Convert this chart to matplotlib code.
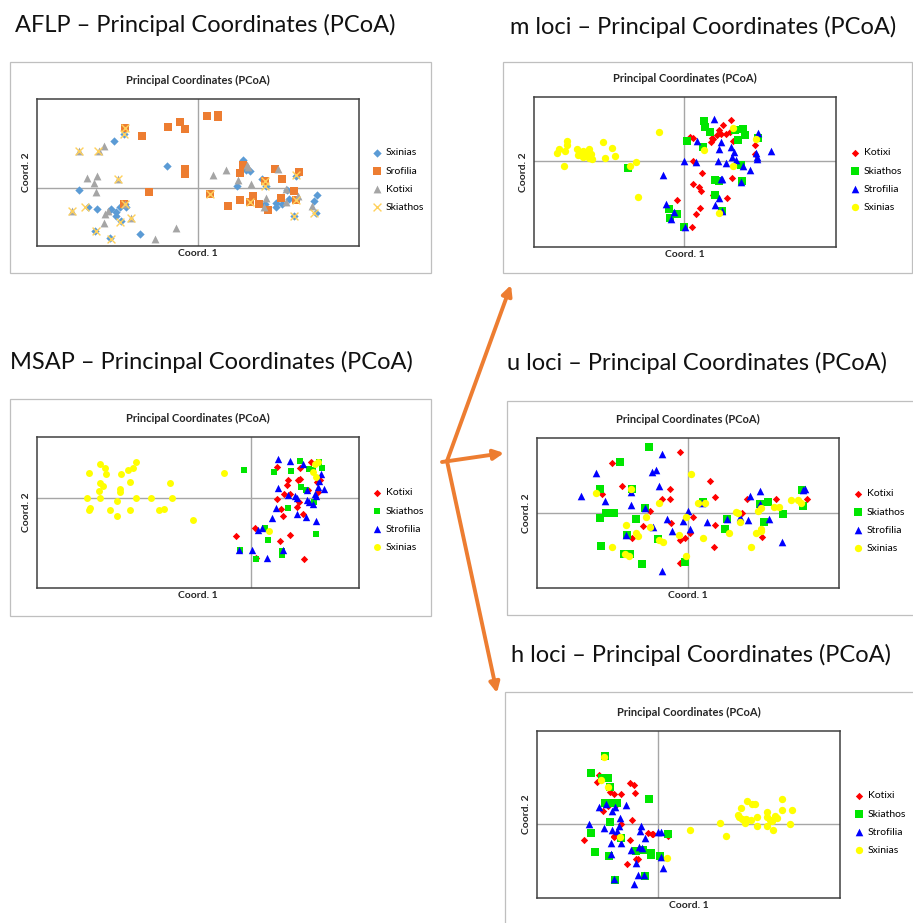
import matplotlib
matplotlib.use("Agg")
import matplotlib.pyplot as plt
from matplotlib.patches import Rectangle, FancyArrowPatch

plt.rcParams["font.family"] = ["Lato", "DejaVu Sans"]

# ---- AFLP: Sxinias, Srofilia, Kotixi, Skiathos ----
aflp_sxinias = [(-2.54, 1.39), (-2.22, 1.61), (-3.57, -0.08), (-0.94, 0.65), (-3.30, -0.59),
                (-3.04, -0.65), (-2.61, -0.65), (-2.46, -0.73), (-2.48, -0.85), (-2.35, -0.58),
                (-2.16, -0.59), (-2.32, -0.99), (-3.09, -1.30), (-2.64, -1.52), (-1.74, -1.38),
                (1.35, 0.83), (1.44, 0.52), (1.56, 0.49), (1.17, 0.05), (1.91, 0.26),
                (2.02, 0.05), (2.65, -0.07), (2.34, -0.59), (2.32, -0.45), (2.72, -0.34),
                (2.52, -0.48), (2.87, -0.84), (2.94, 0.35), (3.47, -0.40), (3.56, -0.21),
                (3.54, -0.76), (2.00, -0.48), (-2.21, -0.50)]
aflp_srofilia = [(-2.19, 1.78), (-1.69, 1.54), (-0.92, 1.81), (-0.56, 1.97), (-0.40, 1.76),
                 (0.27, 2.14), (0.58, 2.19), (0.60, 2.13), (-0.39, 0.56), (-0.40, 0.41),
                 (-1.48, -0.14), (0.34, -0.18), (0.90, -0.54), (1.24, 0.44), (1.26, -0.36),
                 (1.34, 0.67), (1.64, -0.26), (1.56, -0.42), (1.82, -0.50), (2.08, -0.68),
                 (2.01, 0.20), (2.30, 0.56), (2.52, 0.25), (2.48, -0.32), (2.87, -0.09),
                 (2.92, -0.36), (3.03, 0.47), (-2.23, -0.48)]
aflp_kotixi = [(-3.59, 1.10), (-2.84, 1.26), (-2.99, 1.10), (-3.34, 0.30), (-3.04, 0.35),
               (-3.14, 0.14), (-2.40, 0.25), (-3.06, -0.14), (-3.80, -0.71), (-2.81, -0.78),
               (-2.70, -0.71), (-2.84, -1.06), (-2.01, -0.92), (-1.29, -1.53), (-0.68, -1.20),
               (0.43, 0.37), (0.82, 0.52), (1.19, 0.22), (1.46, 0.69), (1.49, 0.62),
               (1.58, 0.10), (2.40, 0.57), (2.64, -0.04), (2.02, -0.31), (2.63, -0.43),
               (3.00, -0.25), (3.40, -0.56), (1.96, -0.58), (-2.21, -0.48)]
aflp_skiathos = [(-3.58, 1.10), (-3.00, 1.09), (-2.40, 0.25), (-3.80, -0.71), (-3.40, -0.59),
                 (-2.21, -0.48), (-2.36, -1.03), (-2.01, -0.90), (-3.08, -1.30), (-2.62, -1.54),
                 (-2.19, 1.78), (-2.22, 1.62), (2.01, 0.20), (2.00, 0.04), (2.92, 0.38),
                 (2.92, -0.36), (2.87, -0.84), (3.46, -0.76), (1.56, -0.42), (0.34, -0.18)]

# ---- MSAP ----
msap_kotixi = [(0.76, 0.92), (1.45, 0.88), (1.78, 1.07), (1.09, 0.53), (1.06, 0.39),
               (1.40, 0.53), (1.45, 0.55), (1.70, 0.23), (0.97, 0.11), (1.17, 0.11),
               (0.77, -0.04), (0.90, -0.35), (0.95, -0.57), (1.37, -0.28), (1.42, -0.13),
               (1.55, -0.50), (1.98, 0.48), (2.07, 0.54), (2.01, 0.18), (0.12, -0.91),
               (-0.46, -1.17), (0.85, -1.30), (1.15, -1.13), (1.58, -1.85), (0.13, -1.83)]
msap_skiathos = [(-0.22, 0.82), (0.67, 0.76), (1.20, 0.79), (1.46, 1.11), (1.72, 0.87),
                 (1.86, 0.84), (2.03, 1.08), (2.11, 0.90), (1.50, 0.32), (1.63, 0.24),
                 (1.10, -0.30), (1.87, -0.14), (1.93, -1.09), (0.50, -1.27), (0.40, -0.92),
                 (-0.35, -1.57), (0.93, -1.62), (0.93, -1.74), (0.15, -1.85)]
msap_strofilia = [(0.81, 1.15), (1.17, 1.09), (1.55, 1.02), (0.81, 0.29), (1.10, 0.08),
                  (1.30, 0.05), (1.37, 0.00), (1.67, 0.22), (1.90, 0.11), (1.95, 0.06),
                  (2.00, 0.31), (2.19, 0.27), (2.10, 0.71), (2.02, 0.50), (1.68, -0.07),
                  (1.72, -0.14), (1.86, -0.18), (0.73, -0.30), (0.63, -0.62), (1.37, -0.50),
                  (1.65, -0.60), (1.93, -0.72), (0.31, -0.91), (0.20, -0.99), (-0.36, -1.59),
                  (0.02, -1.57), (0.95, -1.59), (0.48, -1.83)]
msap_sxinias = [(-4.55, 1.01), (-3.47, 1.08), (-4.87, 0.75), (-4.39, 0.89), (-4.36, 0.71),
                (-3.70, 0.83), (-3.56, 0.90), (-3.90, 0.70), (-4.55, 0.43), (-4.45, 0.35),
                (-4.57, 0.19), (-3.95, 0.25), (-3.94, 0.16), (-3.63, 0.46), (-2.44, 0.43),
                (-4.93, 0.00), (-4.53, -0.02), (-4.03, -0.10), (-3.47, 0.00), (-3.01, 0.00),
                (-2.39, 0.00), (-4.85, -0.32), (-4.87, -0.38), (-4.25, -0.38), (-4.04, -0.57),
                (-3.63, -0.38), (-2.78, -0.36), (-2.63, -0.35), (-1.75, -0.67), (-0.83, 0.75),
                (0.53, -1.00), (1.92, 1.00), (2.01, 1.07), (1.93, 0.61), (1.85, 0.78)]

# ---- m loci ----
m_kotixi = [(1.41, 1.23), (1.15, 1.09), (1.05, 0.92), (1.09, 0.82), (0.97, 0.79),
            (0.87, 0.67), (0.81, 0.57), (0.17, 0.71), (0.25, 0.68), (1.37, 0.87),
            (1.25, 0.82), (1.45, 0.60), (0.83, 0.69), (2.12, 0.49), (2.11, 0.21),
            (0.25, -0.01), (0.53, -0.35), (1.42, -0.51), (0.27, -0.70), (0.44, -0.79),
            (0.49, -0.90), (0.85, -1.01), (1.27, -1.11), (-0.23, -1.16), (0.47, -1.40),
            (0.35, -1.59), (0.23, -1.97)]
m_skiathos = [(0.58, 1.21), (0.63, 1.02), (0.77, 0.87), (0.09, 0.60), (0.57, 0.41),
              (1.53, 0.93), (1.75, 0.97), (1.83, 0.79), (1.62, 0.64), (2.21, 0.69),
              (1.69, -0.11), (0.92, -0.58), (1.05, -0.60), (1.72, -0.59), (0.91, -1.03),
              (1.14, -1.49), (-0.47, -1.43), (-0.23, -1.59), (-0.43, -1.71), (-0.01, -1.97),
              (-1.70, -0.21)]
m_strofilia = [(0.90, 1.26), (2.22, 0.85), (0.37, 0.60), (1.09, 0.57), (1.03, 0.37),
               (1.39, 0.43), (1.49, 0.26), (1.43, 0.13), (1.55, 0.03), (2.14, 0.25),
               (2.17, 0.11), (2.19, 0.06), (2.61, 0.30), (-0.01, 0.01), (0.35, -0.02),
               (1.02, 0.01), (1.25, -0.07), (1.77, -0.14), (1.98, -0.27), (1.10, -0.55),
               (1.13, -0.55), (1.71, -0.62), (-0.63, -0.41), (-0.56, -1.28), (-0.31, -1.54),
               (-0.41, -1.73), (0.01, -1.97), (0.92, -1.33), (1.05, -1.11), (1.13, -1.51)]
m_sxinias = [(-3.52, 0.60), (-3.51, 0.49), (-3.75, 0.37), (-3.83, 0.25), (-3.57, 0.29),
             (-3.21, 0.35), (-3.11, 0.25), (-3.19, 0.17), (-3.03, 0.29), (-2.93, 0.25),
             (-2.85, 0.35), (-2.81, 0.22), (-3.05, 0.12), (-2.87, 0.09), (-2.77, 0.05),
             (-2.43, 0.57), (-2.17, 0.40), (-2.38, 0.10), (-2.08, 0.14), (-3.61, -0.15),
             (-1.63, -0.15), (-1.45, -0.03), (-0.76, 0.87), (-1.39, -1.08), (1.47, 0.99),
             (2.14, 0.67), (0.59, 0.33), (1.47, -0.16), (1.05, -1.55)]

# ---- u loci ----
u_kotixi = [(-0.23, 1.83), (-2.28, 1.50), (-1.96, 0.81), (-2.58, 0.57), (-0.54, 0.74),
            (-0.76, 0.43), (-0.53, 0.44), (0.68, 0.96), (0.83, 0.50), (-1.14, 0.06),
            (-1.35, -0.37), (-1.66, -0.74), (-0.51, -0.28), (-0.23, -0.81), (-0.09, -0.74),
            (0.06, -0.59), (0.16, -0.10), (0.83, -0.34), (0.79, -1.01), (-0.23, -1.47),
            (1.78, 0.42), (1.62, 0.02), (2.24, -0.71), (2.65, 0.42), (3.39, 0.31),
            (3.57, 0.44)]
u_skiathos = [(-1.15, 1.99), (-2.03, 1.52), (-2.62, 0.73), (-1.68, 0.74), (-2.44, 0.02),
              (-2.22, 0.00), (-2.62, -0.13), (-1.29, 0.17), (-1.54, -0.16), (-1.81, -0.64),
              (-0.88, -0.77), (-2.60, -0.97), (-1.91, -1.21), (-1.74, -1.20), (-1.37, -1.51),
              (-0.09, -1.46), (0.45, 0.33), (1.17, -0.16), (1.12, -0.46), (2.17, 0.28),
              (2.41, 0.35), (2.30, -0.27), (2.87, -0.03), (3.43, 0.70), (3.45, 0.23)]
u_strofilia = [(-0.76, 1.78), (-1.07, 1.24), (-0.95, 1.30), (-2.74, 1.20), (-3.19, 0.52),
               (-2.48, 0.36), (-1.70, 0.24), (-0.87, 0.83), (-1.70, 0.64), (-1.29, 0.16),
               (-1.05, -0.42), (-0.61, -0.17), (-0.47, -0.52), (-0.14, -0.23), (0.02, 0.07),
               (0.07, -0.46), (0.59, -0.26), (1.17, -0.17), (1.56, -0.10), (1.81, -0.21),
               (2.43, -0.17), (1.86, 0.53), (2.18, 0.68), (2.18, 0.28), (2.83, -0.87),
               (3.51, 0.74), (3.47, 0.69), (-1.84, -0.64), (-0.78, -1.71), (0.44, 0.31)]
u_sxinias = [(-2.76, 0.60), (-1.69, 0.74), (-0.86, 0.30), (-1.25, -0.10), (-1.86, -0.34),
             (-1.13, -0.42), (-1.54, -0.58), (-1.49, -0.68), (-0.86, -0.81), (-0.73, -0.87),
             (-0.27, -0.66), (-0.05, -0.12), (-0.04, -1.26), (-2.26, -1.02), (-1.88, -1.22),
             (-1.75, -1.28), (0.09, 1.16), (0.31, 0.32), (0.53, 0.31), (0.47, -0.73),
             (1.44, 0.04), (1.51, 0.02), (1.57, -0.27), (1.23, -0.59), (1.89, -1.02),
             (2.11, 0.07), (2.19, 0.17), (2.04, -0.60), (2.19, -0.46), (2.21, -0.53),
             (2.59, 0.19), (2.73, 0.18), (3.11, 0.41), (3.31, 0.39), (3.39, 0.30)]

# ---- h loci ----
h_kotixi = [(-1.79, 1.46), (-1.83, 1.26), (-1.71, 1.32), (-1.46, 0.95), (-1.32, 0.89),
            (-1.12, 0.91), (-0.84, 1.23), (-0.72, 1.17), (-0.70, 0.92), (-1.67, 0.40),
            (-1.52, 0.55), (-1.12, -0.01), (-0.80, 0.12), (-1.34, -0.38), (-1.32, -0.35),
            (-0.86, -0.49), (-0.61, -1.05), (-0.67, -1.06), (-0.94, -1.21), (-2.23, -0.48),
            (-0.32, -0.26), (-0.17, -0.30), (-0.19, -0.31), (0.28, -0.36), (-1.26, 0.57)]
h_skiathos = [(-1.59, 2.06), (-2.03, 1.55), (-1.52, 1.39), (-1.69, 1.37), (-1.46, 1.12),
              (-1.59, 0.62), (-1.41, 0.62), (-1.23, 0.62), (-0.27, 0.74), (-1.46, 0.05),
              (-2.01, -0.26), (-1.13, -0.41), (-1.89, -0.84), (-1.47, -0.98), (-0.67, -0.82),
              (-0.46, -0.78), (-0.21, -0.86), (-0.23, -0.92), (0.05, -0.98), (0.30, -0.30),
              (-1.31, -1.70), (-0.39, -1.58)]
h_strofilia = [(-1.79, 0.52), (-1.56, 0.59), (-1.38, 0.40), (-1.30, 0.50), (-0.98, 0.57),
               (-1.16, 0.19), (-2.08, 0.00), (-1.64, -0.13), (-1.38, -0.18), (-1.24, -0.20),
               (-1.19, -0.06), (-0.53, -0.07), (-0.56, -0.20), (-0.39, -0.41), (-1.41, -0.58),
               (-1.11, -0.56), (-0.82, -0.78), (-0.58, -0.68), (-0.48, -0.73), (-1.41, -0.90),
               (-0.67, -1.17), (0.07, -1.00), (0.14, -1.33), (-1.32, -1.65), (-0.61, -1.54),
               (-0.44, -1.54), (-0.74, -1.82), (-0.02, -0.24), (0.07, -0.24)]
h_sxinias = [(-1.64, 2.02), (-1.72, 1.32), (-1.52, 1.12), (-1.15, -0.40), (0.25, -1.02),
             (0.97, -0.18), (1.86, 0.03), (2.04, -0.37), (2.50, 0.47), (2.68, 0.69),
             (2.81, 0.61), (2.91, 0.61), (3.72, 0.75), (4.01, 0.43), (3.71, 0.41),
             (3.26, 0.35), (2.98, 0.21), (2.44, 0.22), (2.53, 0.14), (2.61, 0.04),
             (2.63, 0.16), (2.79, 0.11), (3.27, 0.22), (3.36, 0.12), (3.51, 0.24),
             (3.56, 0.19), (3.41, 0.10), (2.97, -0.07), (3.27, -0.06), (3.44, -0.19),
             (3.96, 0.01), (2.41, 0.26)]

headings = ["AFLP \u2013 Principal Coordinates (PCoA)",
            "MSAP \u2013 Princinpal Coordinates (PCoA)",
            "m loci \u2013 Principal Coordinates (PCoA)",
            "u loci \u2013 Principal Coordinates (PCoA)",
            "h loci \u2013 Principal Coordinates (PCoA)"]

W, H = 913, 923
fig = plt.figure(figsize=(W / 100, H / 100), dpi=100)
fig.patch.set_facecolor("white")


def fx(x):
    return x / W


def fy(y):
    return 1 - y / H


def panel(heading, hx, hy, box, plot, xlim, ylim, series, legend_xy):
    # outer gray frame
    bx0, by0, bx1, by1 = box
    fig.add_artist(Rectangle((fx(bx0), fy(by1)), (bx1 - bx0) / W, (by1 - by0) / H,
                             transform=fig.transFigure, fill=False,
                             ec="#BFBFBF", lw=0.9))
    fig.text(fx(hx), fy(hy), heading, fontsize=17, va="center", ha="left", color="#111111")

    x0, y0, x1, y1 = plot
    ax = fig.add_axes([fx(x0), fy(y1), (x1 - x0) / W, (y1 - y0) / H])
    ax.set_xlim(xlim)
    ax.set_ylim(ylim)
    ax.set_xticks([])
    ax.set_yticks([])
    for sp in ax.spines.values():
        sp.set_color("#404040")
        sp.set_linewidth(1.1)
    ax.axhline(0, color="#A6A6A6", lw=1.0, zorder=1)
    ax.axvline(0, color="#A6A6A6", lw=1.0, zorder=1)

    handles = []
    for pts, name, color, marker, size in series:
        xs = [p[0] for p in pts]
        ys = [p[1] for p in pts]
        lw = 1.0 if marker == "x" else 0
        h = ax.scatter(xs, ys, s=size, marker=marker, color=color, linewidths=lw,
                       label=name, zorder=3)
        handles.append(h)

    cx = (x0 + x1) / 2
    fig.text(fx(cx), fy(y0 - 19), "Principal Coordinates (PCoA)", fontsize=8,
             fontweight="bold", ha="center", va="center", color="#262626")
    fig.text(fx(cx), fy(y1 + 8), "Coord. 1", fontsize=7.5, fontweight="bold",
             ha="center", va="center", color="#262626")
    fig.text(fx(x0 - 11), fy((y0 + y1) / 2), "Coord. 2", fontsize=7.5, fontweight="bold",
             ha="center", va="center", rotation=90, color="#262626")

    lx, ly = legend_xy
    ax.legend(handles=handles, loc="center left", bbox_to_anchor=(fx(lx), fy(ly)),
              bbox_transform=fig.transFigure, frameon=False, fontsize=7.5,
              handlelength=1.0, handletextpad=0.3, labelspacing=0.85,
              borderpad=0, borderaxespad=0, scatterpoints=1)
    return ax


c_kot, c_ski, c_str, c_sxi = "#FF0000", "#00E600", "#0000FF", "#FFFF00"

panel(headings[0], 15, 25, (10, 62, 431, 273), (37, 99, 359, 246),
      (-4.84, 4.82), (-1.75, 2.66),
      [(aflp_sxinias, "Sxinias", "#5B9BD5", "D", 18),
       (aflp_srofilia, "Srofilia", "#ED7D31", "s", 34),
       (aflp_kotixi, "Kotixi", "#A5A5A5", "^", 32),
       (aflp_skiathos, "Skiathos", "#FFD15C", "x", 32)],
      (372, 180))

panel(headings[1], 10, 362, (10, 399, 431, 616), (37, 437, 359, 588),
      (-6.43, 3.23), (-2.72, 1.82),
      [(msap_kotixi, "Kotixi", c_kot, "D", 14),
       (msap_skiathos, "Skiathos", c_ski, "s", 24),
       (msap_strofilia, "Strofilia", c_str, "^", 28),
       (msap_sxinias, "Sxinias", c_sxi, "o", 25)],
      (372, 520))

panel(headings[2], 510, 27, (503, 62, 912, 273), (534, 97, 836, 247),
      (-4.51, 4.55), (-2.58, 1.92),
      [(m_kotixi, "Kotixi", c_kot, "D", 14),
       (m_skiathos, "Skiathos", c_ski, "s", 26),
       (m_strofilia, "Strofilia", c_str, "^", 30),
       (m_sxinias, "Sxinias", c_sxi, "o", 28)],
      (850, 180))

panel(headings[3], 507, 363, (507, 401, 930, 615), (537, 438, 839, 588),
      (-4.52, 4.54), (-2.23, 2.25),
      [(u_kotixi, "Kotixi", c_kot, "D", 14),
       (u_skiathos, "Skiathos", c_ski, "s", 26),
       (u_strofilia, "Strofilia", c_str, "^", 30),
       (u_sxinias, "Sxinias", c_sxi, "o", 28)],
      (853, 521))

panel(headings[4], 511, 655, (505, 692, 930, 940), (537, 731, 840, 898),
      (-3.64, 5.46), (-2.23, 2.80),
      [(h_kotixi, "Kotixi", c_kot, "D", 14),
       (h_skiathos, "Skiathos", c_ski, "s", 26),
       (h_strofilia, "Strofilia", c_str, "^", 30),
       (h_sxinias, "Sxinias", c_sxi, "o", 28)],
      (854, 823))

# orange arrows from the MSAP panel to the three locus panels
arrow_kw = dict(transform=fig.transFigure, arrowstyle="-|>", mutation_scale=15,
                color="#ED7D31", lw=2.8, shrinkA=0, shrinkB=0)
for start, end in [((447, 461), (511, 285)), ((442, 462), (504, 453)),
                   ((447, 461), (497, 693))]:
    fig.add_artist(FancyArrowPatch((fx(start[0]), fy(start[1])), (fx(end[0]), fy(end[1])),
                                   **arrow_kw))

fig.savefig("out.png", dpi=100)
